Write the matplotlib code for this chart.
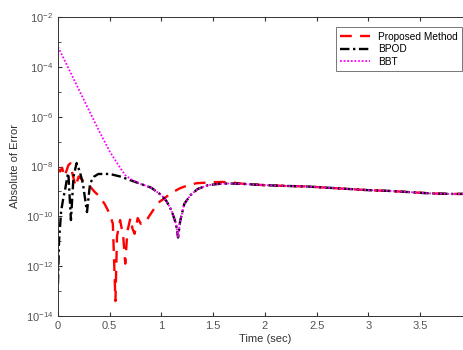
import numpy as np
import matplotlib
matplotlib.use('Agg')
import matplotlib.pyplot as plt
from matplotlib.ticker import NullFormatter

plt.rcParams['font.family'] = ['Liberation Sans', 'DejaVu Sans']
plt.rcParams['mathtext.fontset'] = 'custom'
plt.rcParams['mathtext.rm'] = 'Liberation Sans'
plt.rcParams['mathtext.it'] = 'Liberation Sans:italic'

# shared tail of all three errors (time, log10 of error)
tail_t = [1.8, 2.0, 2.2, 2.4, 2.6, 2.8, 3.0, 3.2, 3.4, 3.6, 3.8, 4.0]
tail_e = [-8.70, -8.75, -8.78, -8.80, -8.85, -8.90, -8.95, -8.98, -9.03, -9.08, -9.10, -9.10]

# Proposed Method
prop_t = [0.0, 0.02, 0.04, 0.06, 0.08, 0.10, 0.12, 0.14, 0.17, 0.20, 0.25, 0.30,
          0.35, 0.40, 0.45, 0.50, 0.53, 0.555, 0.57, 0.60, 0.63, 0.65, 0.67, 0.70,
          0.72, 0.74, 0.77, 0.80, 0.84, 0.88, 0.92, 0.97, 1.03, 1.10, 1.18, 1.26,
          1.34, 1.42, 1.50, 1.60, 1.70]
prop_e = [-8.10, -8.20, -8.05, -8.40, -8.20, -7.95, -7.87, -8.30, -8.80, -8.40, -8.60, -8.75,
          -9.00, -9.20, -9.50, -9.90, -10.30, -13.40, -10.80, -10.15, -10.80, -11.90, -10.60, -10.07,
          -10.50, -10.70, -10.07, -10.30, -10.27, -10.00, -9.75, -9.45, -9.27, -9.05, -8.87, -8.75,
          -8.67, -8.65, -8.63, -8.62, -8.65]

# BPOD
bpod_t = [0.0, 0.01, 0.03, 0.05, 0.07, 0.09, 0.10, 0.125, 0.15, 0.18, 0.21, 0.24,
          0.28, 0.31, 0.35, 0.39, 0.50, 0.60, 0.70, 0.80, 0.90, 0.95, 1.00, 1.05,
          1.10, 1.14, 1.16, 1.18, 1.22, 1.28, 1.35, 1.45, 1.55, 1.65]
bpod_e = [-12.70, -11.00, -9.80, -9.30, -8.90, -8.40, -8.27, -10.15, -8.40, -7.86, -8.20, -8.67,
          -9.83, -8.67, -8.40, -8.30, -8.30, -8.40, -8.55, -8.70, -8.85, -9.00, -9.15, -9.40,
          -9.80, -10.30, -10.85, -10.20, -9.50, -9.15, -8.90, -8.75, -8.70, -8.68]

# BBT
bbt_t = [0.0, 0.1, 0.2, 0.3, 0.4, 0.5, 0.6, 0.65, 0.72, 0.80, 0.90, 0.95, 1.00, 1.05,
         1.10, 1.14, 1.16, 1.18, 1.22, 1.28, 1.35, 1.45, 1.55, 1.65]
bbt_e = [-3.20, -4.05, -4.90, -5.75, -6.60, -7.40, -8.05, -8.35, -8.55, -8.70, -8.85, -9.00,
         -9.15, -9.40, -9.80, -10.30, -10.85, -10.20, -9.50, -9.15, -8.90, -8.75, -8.70, -8.68]

x_ticks = [0, 0.5, 1, 1.5, 2, 2.5, 3, 3.5, 4]
x_tick_labels = ['0', '0.5', '1', '1.5', '2', '2.5', '3', '3.5', '']


def series(t, e):
    return np.array(t + tail_t), 10.0 ** np.array(e + tail_e)


fig = plt.figure(figsize=(4.64, 3.5), dpi=100)
ax = fig.add_axes([58 / 464, 34 / 350, 414 / 464, 299 / 350])

x, y = series(prop_t, prop_e)
ax.semilogy(x, y, color='#ff0000', ls=(0, (5, 3.5)), lw=1.7, label='Proposed Method')
x, y = series(bpod_t, bpod_e)
ax.semilogy(x, y, color='black', ls=(0, (4, 1.5, 1, 1.5)), lw=1.7, label='BPOD')
x, y = series(bbt_t, bbt_e)
ax.semilogy(x, y, color='#ff00ff', ls=(0, (1, 1)), lw=1.3, label='BBT')

ax.set_xlim(0, 4)
ax.set_ylim(1e-14, 1e-2)
ax.set_xticks(x_ticks)
ax.set_xticklabels(x_tick_labels)
ax.set_yticks([10.0 ** k for k in range(-14, -1, 2)])
ax.set_yticks([10.0 ** k for k in range(-13, -2, 2)], minor=True)
ax.yaxis.set_minor_formatter(NullFormatter())
ax.tick_params(which='both', direction='in', top=True, right=True,
               labelsize=8, colors='#333333', labelcolor='#555555')
ax.tick_params(which='major', length=3)
ax.tick_params(which='minor', length=1.8)
for s in ax.spines.values():
    s.set_color('#333333')
    s.set_linewidth(0.7)

ax.set_xlabel('Time (sec)', fontsize=8, color='#333333', labelpad=2)
ax.set_ylabel('Absolute of Error', fontsize=8, color='#333333', labelpad=4)

leg = ax.legend(loc='upper right', bbox_to_anchor=(462 / 464, 1 - 27 / 350),
                bbox_transform=fig.transFigure, borderaxespad=0, fontsize=7.3,
                frameon=True, fancybox=False, borderpad=0.45, handlelength=2.9,
                labelspacing=0.25)
leg.get_frame().set_edgecolor('#555555')
leg.get_frame().set_linewidth(0.7)

fig.savefig('out.png', dpi=100)
